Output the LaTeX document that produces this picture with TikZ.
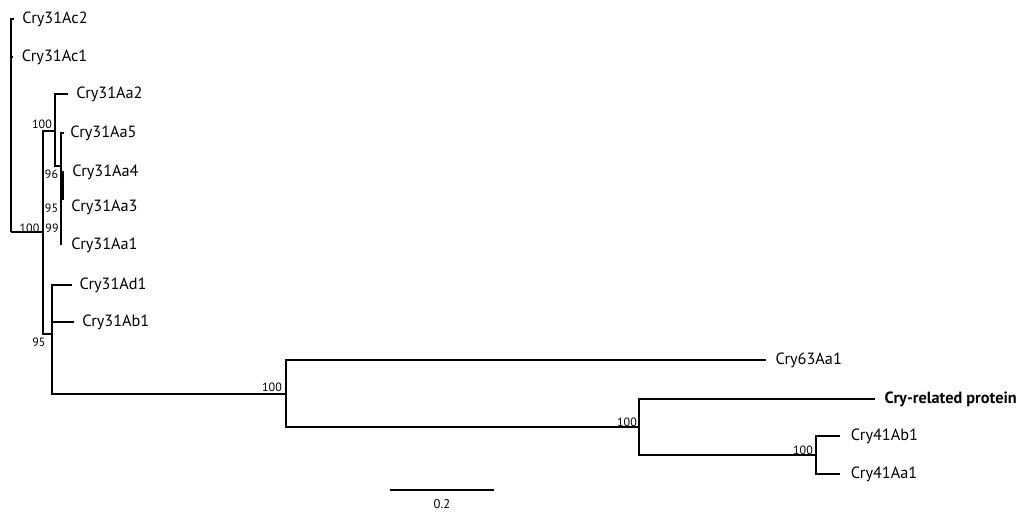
\documentclass[tikz,border=0pt]{standalone}
\usepackage{fontspec}
\setmainfont{PT Sans}
\begin{document}
\begin{tikzpicture}[x=0.75pt,y=-0.75pt,
  br/.style={line width=1.8pt},
  leaf/.style={anchor=west,inner sep=0pt,font=\fontsize{12.2}{14}\selectfont},
  boot/.style={inner sep=0pt,font=\fontsize{9}{10}\selectfont}]
\useasboundingbox (0,0) rectangle (1024,513);
% internal nodes
\coordinate (r) at (11,232);
\coordinate (nA) at (43,232);
\coordinate (nF) at (55,131);
\coordinate (nG) at (61,166);
\coordinate (nB) at (52,334);
\coordinate (nC) at (286,394);
\coordinate (nD) at (639,427);
\coordinate (nE) at (816,455);
\coordinate (nH1) at (61.5,172);
\coordinate (nH2) at (61.5,200);
% tips
\coordinate (tAc2) at (14,19);
\coordinate (tAc1) at (13,57);
\coordinate (tAa2) at (68,94);
\coordinate (tAa5) at (64,133);
\coordinate (tAa4) at (64,172);
\coordinate (tAa3) at (61,207);
\coordinate (tAa1) at (61,245);
\coordinate (tAd1) at (72,285);
\coordinate (tAb1) at (74,322);
\coordinate (t63) at (766,360);
\coordinate (tCRP) at (875,399);
\coordinate (t41b) at (840,436);
\coordinate (t41a) at (840,474);
% branches
\draw[br] (r) |- (tAc2);
\draw[br] (r) |- (tAc1);
\draw[br] (r) -- (nA);
\draw[br] (nA) |- (nF);
\draw[br] (nA) |- (nB);
\draw[br] (nF) |- (tAa2);
\draw[br] (nF) |- (nG);
\draw[br] (nG) |- (tAa5);
\draw[br] (nG) |- (tAa4);
\draw[br] (nG) -- (tAa3);
\draw[br] (nG) -- (tAa1);
\draw[line width=3pt] (nH1) -- (nH2);
\draw[br] (nB) |- (tAd1);
\draw[br] (nB) |- (tAb1);
\draw[br] (nB) |- (nC);
\draw[br] (nC) |- (t63);
\draw[br] (nC) |- (nD);
\draw[br] (nD) |- (tCRP);
\draw[br] (nD) |- (nE);
\draw[br] (nE) |- (t41b);
\draw[br] (nE) |- (t41a);
% leaf labels
\node[leaf] (lAc2) at ([xshift=6pt]tAc2) {Cry31Ac2};
\node[leaf] (lAc1) at ([xshift=6.5pt]tAc1) {Cry31Ac1};
\node[leaf] (lAa2) at ([xshift=6pt]tAa2) {Cry31Aa2};
\node[leaf] (lAa5) at ([xshift=4.5pt]tAa5) {Cry31Aa5};
\node[leaf] (lAa4) at ([xshift=6pt]tAa4) {Cry31Aa4};
\node[leaf] (lAa3) at ([xshift=7.5pt]tAa3) {Cry31Aa3};
\node[leaf] (lAa1) at ([xshift=7.5pt]tAa1) {Cry31Aa1};
\node[leaf] (lAd1) at ([xshift=5.5pt]tAd1) {Cry31Ad1};
\node[leaf] (lAb1) at ([xshift=6pt]tAb1) {Cry31Ab1};
\node[leaf] (l63) at ([xshift=7pt]t63) {Cry63Aa1};
\node[leaf,font=\fontsize{12.2}{14}\selectfont\bfseries] (lCRP) at ([xshift=7pt]tCRP) {Cry-related protein};
\node[leaf] (l41b) at ([xshift=8pt]t41b) {Cry41Ab1};
\node[leaf] (l41a) at ([xshift=8pt]t41a) {Cry41Aa1};
% bootstrap values
\node[boot] (b1) at (29.5,228) {100};
\node[boot] (b2) at (42,124) {100};
\node[boot] (b3) at (51.5,174) {96};
\node[boot] (b4) at (51.5,208) {95};
\node[boot] (b5) at (52,228) {99};
\node[boot] (b6) at (39,342) {95};
\node[boot] (b7) at (272,387) {100};
\node[boot] (b8) at (627,422) {100};
\node[boot] (b9) at (803,450) {100};
% scale bar
\coordinate (s1) at (390,490);
\coordinate (s2) at (494,490);
\draw[line width=1pt] (s1) -- (s2);
\node[boot,font=\fontsize{9.5}{10}\selectfont] (sl) at (442,504) {0.2};
\end{tikzpicture}
\end{document}
